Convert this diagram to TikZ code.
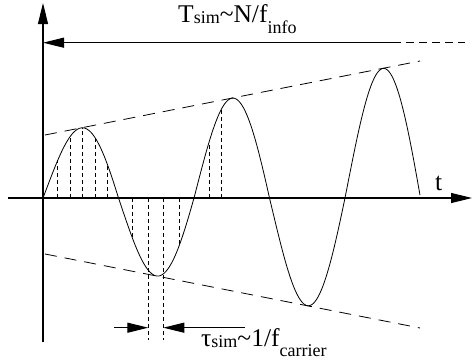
\documentclass[tikz,border=0pt]{standalone}
\usepackage{fontspec}
\setmainfont{Liberation Serif}
\usetikzlibrary{arrows.meta}
\newcommand\subtxt[2]{\raisebox{-#1}{\fontsize{18}{20}\selectfont #2}}
\newcommand\wyexpr[1]{198-(59.5+0.197*(#1-45))*sin(2.38411*(#1-43))-3.5*abs(sin(2.38411*(#1-43)))}
\begin{document}
\begin{tikzpicture}[x=1pt,y=-1pt,
  axis/.style={line width=1.1pt},
  wave/.style={line width=0.8pt},
  env/.style={line width=0.8pt, dash pattern=on 12pt off 8pt},
  samp/.style={line width=0.8pt, dash pattern=on 4pt off 3pt},
  ext/.style={line width=0.8pt, dash pattern=on 8pt off 5pt},
  lbl/.style={inner sep=0pt, anchor=base west, font=\fontsize{25.5}{28}\selectfont},
  tip/.style={-{Triangle[length=21pt,width=10pt]}}]
\useasboundingbox (0,0) rectangle (472,364);
% axes
\coordinate (O) at (43,198);
\coordinate (xs) at (8,198);
\coordinate (xe) at (472,198);
\coordinate (ys) at (43,342);
\coordinate (ye) at (43,3);
\draw[axis,tip] (xs) -- (xe);
\draw[axis,tip] (ys) -- (ye);
% envelopes
\coordinate (u1) at (45,135);
\coordinate (u2) at (420,61);
\coordinate (l1) at (45,254);
\coordinate (l2) at (420,328);
\draw[env] (u1) -- (u2);
\draw[env] (l1) -- (l2);
% sample lines
\foreach \xx in {57.7,70,82.7,95,107.3,132.7,179.3,209,221.7}{
  \pgfmathsetmacro\yy{\wyexpr{\xx}}
  \draw[samp] (\xx,198) -- (\xx,\yy);
}
\coordinate (s1t) at (148.3,198);
\coordinate (s1b) at (148.3,340);
\coordinate (s2t) at (163.3,198);
\coordinate (s2b) at (163.3,340);
\draw[samp] (s1t) -- (s1b);
\draw[samp] (s2t) -- (s2b);
% wave
\draw[wave] plot[domain=43:420, samples=300, smooth] (\x,{\wyexpr{\x}});
% top arrow
\coordinate (ta) at (393,42.7);
\coordinate (tb) at (43,42.7);
\coordinate (tc) at (465,42.7);
\draw[axis,tip] (ta) -- (tb);
\draw[ext] (ta) -- (tc);
% tau arrows
\coordinate (d1) at (114,327.7);
\coordinate (d1t) at (148.3,327.7);
\coordinate (d2) at (245,327.7);
\coordinate (d2t) at (163.3,327.7);
\draw[axis,tip] (d1) -- (d1t);
\draw[axis,tip] (d2) -- (d2t);
% labels
\node[lbl] (T) at (178,22.7) {T\subtxt{1.3pt}{sim}\textasciitilde N/f\subtxt{10.5pt}{info}};
\node[lbl] (tau) at (201,346) {τ\subtxt{1pt}{sim}\textasciitilde 1/f\subtxt{10pt}{carrier}};
\node[lbl] (t) at (435,190) {t};
\end{tikzpicture}
\end{document}
